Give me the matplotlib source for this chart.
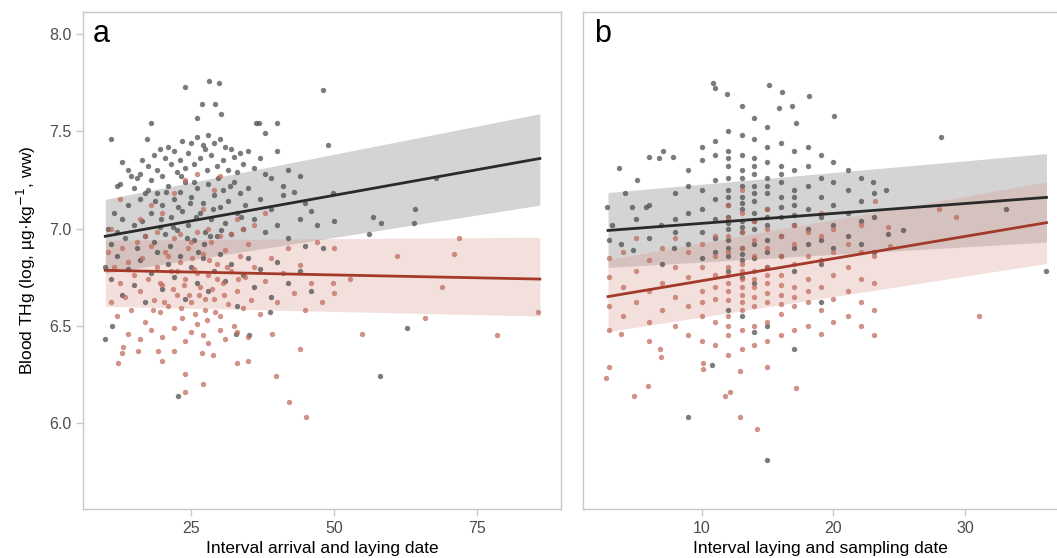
import matplotlib
matplotlib.use("Agg")
import matplotlib.pyplot as plt

plt.rcParams['font.family'] = ['Liberation Sans', 'DejaVu Sans']

# --- panel a: interval arrival -> laying (x) vs blood THg (y) ---
a_grey = [(23.9,7.73),(28.1,7.76),(29.9,7.75),(26.9,7.64),(29.2,7.64),(26.1,7.57),(30.2,7.59),(18.0,7.54),
          (11.0,7.46),(17.3,7.46),(36.3,7.54),(36.9,7.54),(40.1,7.54),(37.9,7.49),(48.1,7.71),(49.0,7.43),
          (49.9,7.18),(50.0,7.04),(56.8,7.06),(58.2,7.03),(56.1,6.97),(64.2,7.10),(64.0,7.03),(67.8,7.26),
          (62.8,6.49),(58.0,6.24),(22.7,6.14),(10.0,6.43),(11.2,6.50),(38.8,6.57),(32.9,6.46),(35.2,6.45),
          (12,7.22),(12.5,7.23),(13,7.34),(14,7.30),(14.5,7.27),(15,7.21),(15.5,7.26),(16,7.28),(16.5,7.35),
          (17,7.18),(17.5,7.32),(18,7.25),(18.5,7.38),(19,7.30),(19.5,7.41),(20,7.27),(20.5,7.36),(21,7.42),
          (21.5,7.33),(22,7.40),(22.5,7.29),(23,7.35),(23.5,7.45),(24,7.31),(24.5,7.39),(25,7.44),(25.5,7.33),
          (26,7.47),(26.5,7.36),(27,7.43),(27.5,7.41),(28,7.48),(28.5,7.38),(29,7.44),(29.5,7.32),(30,7.46),
          (30.5,7.35),(31,7.42),(31.5,7.30),(32,7.41),(32.5,7.37),(33,7.29),(33.5,7.39),(34,7.33),(35,7.40),
          (36,7.31),(37,7.36),(38,7.28),(39,7.26),(40,7.40),(41,7.22),(42,7.30),(43,7.19),(44,7.27),(45,7.13),
          (46,7.09),(10.5,7.00),(11,6.92),(11.5,7.08),(12,6.98),(13,7.05),(13.5,6.95),(14,7.12),(15,7.02),
          (15.5,6.90),(16,7.15),(16.5,7.04),(17,6.96),(17.5,7.20),(18,7.08),(18.5,6.93),(19,7.18),(19.5,7.01),
          (20,7.12),(20.5,6.97),(21,7.22),(21.5,7.06),(22,7.15),(22.5,6.99),(23,7.19),(23.5,7.09),(24,7.24),
          (24.5,7.02),(25,7.16),(25.5,6.94),(26,7.21),(26.5,7.08),(27,7.13),(27.5,6.98),(28,7.23),(28.5,7.05),
          (29,7.17),(29.5,6.96),(30,7.11),(30.5,7.20),(31,7.03),(31.5,7.14),(32,6.97),(32.5,7.24),(33,7.08),
          (33.5,7.18),(34,7.00),(34.5,7.12),(35,7.21),(36,7.05),(37,7.15),(38,6.98),(39,7.10),(40,7.02),
          (41,7.17),(42,6.95),(44,7.05),(45,6.91),(47,7.02),(48,6.90),(10,6.80),(11,6.74),(12,6.86),(13,6.66),
          (14,6.79),(15,6.71),(16,6.84),(17,6.62),(18,6.77),(19,6.88),(20,6.69),(21,6.82),(22,6.75),(23,6.86),
          (24,6.64),(25,6.80),(26,6.72),(27,6.85),(28,6.68),(29,6.78),(30,6.87),(31,6.73),(32,6.82),(33,6.60),
          (34,6.76),(35,6.85),(36,6.70),(37,6.79),(39,6.65),(40,6.83),(42,6.72),(44,6.78),(46,6.68),
          (19.8,7.05),(21.3,6.91),(22.8,7.11),(24.3,6.95),(25.8,7.06),(27.3,6.92),(28.8,7.10),(30.3,6.99),
          (20.7,7.19),(23.2,7.27),(25.6,7.24),(27.8,7.30),(29.7,7.26),(31.8,7.22),(26.2,6.88),(24.8,7.13),
          (21.9,7.01),(28.3,6.96),(18.7,7.14),(33.8,7.06)]

a_red = [(71.9,6.95),(71.0,6.87),(61.0,6.86),(50.0,6.90),(52.8,6.74),(49.8,6.72),(50.0,6.67),(68.9,6.70),
         (65.9,6.54),(85.7,6.57),(54.9,6.46),(44.1,6.38),(39.9,6.24),(42.1,6.11),(45.1,6.03),(24.0,6.16),
         (24.0,6.25),(27.1,6.20),(12.2,6.31),(47.9,6.62),(39.2,6.46),(33.0,6.31),(35.0,6.32),(22.0,6.37),
         (19.9,6.32),(19.2,6.37),(15.8,6.37),(13.0,6.36),(13.1,6.39),(28.9,6.35),(26.9,6.36),(78.5,6.45),
         (12.5,7.15),(18,7.12),(20,7.08),(24,7.25),(27,7.10),(30,7.27),(33,7.05),(36,7.02),(22,7.18),(26,7.28),
         (29,7.20),(16,7.05),(11,7.00),(38,7.08),
         (10.5,6.88),(11,6.62),(11.5,6.80),(12,6.55),(12.5,6.72),(13,6.90),(13.5,6.65),(14,6.83),(14.5,6.58),
         (15,6.76),(15.5,6.93),(16,6.68),(16.5,6.85),(17,6.52),(17.5,6.74),(18,6.91),(18.5,6.63),(19,6.80),
         (19.5,6.57),(20,6.71),(20.5,6.88),(21,6.60),(21.5,6.78),(22,6.95),(22.5,6.66),(23,6.83),(23.5,6.54),
         (24,6.74),(24.5,6.90),(25,6.62),(25.5,6.79),(26,6.51),(26.5,6.70),(27,6.87),(27.5,6.58),(28,6.76),
         (28.5,6.93),(29,6.64),(29.5,6.82),(30,6.55),(30.5,6.72),(31,6.89),(31.5,6.61),(32,6.78),(32.5,6.50),
         (33,6.68),(33.5,6.86),(34,6.59),(34.5,6.75),(35,6.92),(35.5,6.63),(36,6.80),(37,6.56),(38,6.73),
         (39,6.85),(40,6.62),(41,6.77),(42,6.90),(43,6.67),(44,6.81),(45,6.58),(46,6.72),(47,6.93),
         (14,6.46),(16,6.43),(18,6.48),(20,6.44),(22,6.49),(24,6.42),(25,6.47),(27,6.45),(28,6.41),(30,6.48),
         (31,6.43),(33,6.47),(35,6.44),(23,6.97),(25,6.93),(26,6.98),(28,7.00),(30,6.96),(32,6.97),(34,7.00),
         (19,6.98),(17,6.96),(21,6.86),(23.8,6.71),(26.4,6.66),(28.6,6.69),(25.2,6.85),(27.8,6.53),(29.6,6.74),
         (20.3,6.62),(21.8,6.69),(23.3,6.59),(24.7,6.66),(26.1,6.77),(27.4,6.64),(29.1,6.57),(30.8,6.66),
         (22.6,6.78),(25.7,6.56),(28.2,6.84),(31.3,6.80),(19.6,6.72),(33.2,6.74),(18.3,6.58)]

# --- panel b: interval laying -> sampling (x) vs blood THg (y) ---
b_grey = [(10.9,7.75),(11.0,7.72),(11.9,7.69),(15.1,7.74),(16.1,7.70),(18.2,7.68),(13.1,7.63),(15.9,7.62),
          (16.9,7.63),(14.0,7.57),(17.2,7.54),(20.1,7.58),(3.7,7.31),(6.0,7.37),(7.1,7.40),(6.8,7.36),
          (7.8,7.37),(5.1,7.25),(2.8,7.11),(3.0,6.94),(3.9,6.92),(4.8,6.89),(4.7,7.11),(5.8,7.11),(28.2,7.47),
          (33.1,7.10),(36.2,6.78),(25.3,6.99),(24.2,6.97),(24.0,7.20),(23.0,7.24),(9.0,6.03),(15.0,5.81),
          (10.8,6.30),(17.0,6.38),(13.1,6.55),(14,6.47),(15,6.50),(19.1,6.62),(12,6.58),
          (5,7.05),(6,6.95),(6.9,7.02),(7.9,6.90),(4.2,7.18),(3.2,7.02),(6,7.12),(7,6.82),
          (8,7.05),(8,6.98),(8,7.18),(9,7.22),(9,7.08),(9,6.92),(9,7.30),
          (10,7.35),(10,7.20),(10,7.10),(10,6.98),(10,6.85),(10,7.42),
          (11,7.38),(11,7.25),(11,7.15),(11,7.05),(11,6.95),(11,6.88),(11,7.45),
          (12,7.50),(12,7.40),(12,7.32),(12,7.26),(12,7.20),(12,7.12),(12,7.06),(12,7.00),(12,6.94),(12,6.86),(12,6.78),
          (13.1,7.48),(13.1,7.38),(13.1,7.30),(13.1,7.22),(13.1,7.16),(13.1,7.10),(13.1,7.04),(13.1,6.98),
          (13.1,6.90),(13.1,6.84),(13.1,6.75),
          (14,7.46),(14,7.36),(14,7.28),(14,7.22),(14,7.14),(14,7.08),(14,7.00),(14,6.92),(14,6.85),(14,6.72),
          (15,7.52),(15,7.42),(15,7.34),(15,7.26),(15,7.18),(15,7.10),(15,7.02),(15,6.94),(15,6.80),
          (16,7.44),(16,7.32),(16,7.24),(16,7.16),(16,7.06),(16,6.96),(16,6.86),
          (17,7.40),(17,7.30),(17,7.20),(17,7.12),(17,7.02),(17,6.90),(17,6.78),
          (18.1,7.42),(18.1,7.32),(18.1,7.22),(18.1,7.10),(18.1,7.00),(18.1,6.92),
          (19.1,7.38),(19.1,7.26),(19.1,7.16),(19.1,7.06),(19.1,6.94),(19.1,6.82),
          (20,7.34),(20,7.24),(20,7.12),(20,7.02),(20,6.90),
          (21.1,7.30),(21.1,7.20),(21.1,7.08),(21.1,6.96),
          (22.1,7.26),(22.1,7.14),(22.1,7.04),(22.1,6.92),
          (23.1,7.18),(23.1,7.06),(23.1,6.88),
          (12,7.16),(12,7.03),(12,6.90),(12,7.36),(13.1,7.26),(13.1,7.13),(13.1,7.01),(13.1,6.87),
          (14,7.18),(14,7.04),(14,7.32),(15,7.22),(15,7.06),(15,6.88),(16,7.11),(16,7.28),(17,7.16),(17,7.07)]

b_red = [(2.73,6.23),(3.0,6.29),(4.86,6.14),(5.9,6.19),(14.2,5.97),(12.9,6.03),(11.8,6.14),(12.2,6.16),
         (17.2,6.18),(10.1,6.28),(10.1,6.31),(15,6.29),(12.9,6.27),(6.9,6.34),(6.85,6.38),(6.0,6.42),
         (3.9,6.46),(3.0,6.48),(28.0,7.10),(29.3,7.06),(31.1,6.55),(24.2,7.01),(24.3,6.91),(23.2,7.14),
         (3,6.60),(3,6.75),(3,6.85),(4,6.55),(4,6.70),(4,6.88),(5,6.62),(5,6.78),(5,6.95),
         (6,6.52),(6,6.68),(6,6.84),(7,6.58),(7,6.72),(7,6.90),(8,6.50),(8,6.65),(8,6.80),(8,6.95),
         (9,6.45),(9,6.60),(9,6.75),(9,6.88),(10,6.42),(10,6.55),(10,6.68),(10,6.80),(10,6.92),
         (11,6.40),(11,6.52),(11,6.64),(11,6.76),(11,6.86),(11,6.96),
         (12,6.35),(12,6.45),(12,6.55),(12,6.63),(12,6.72),(12,6.80),(12,6.88),(12,6.96),(12,7.05),(12,7.12),
         (13.1,6.38),(13.1,6.48),(13.1,6.58),(13.1,6.66),(13.1,6.74),(13.1,6.82),(13.1,6.90),(13.1,6.98),
         (13.1,7.08),(13.1,7.20),
         (14,6.40),(14,6.50),(14,6.60),(14,6.70),(14,6.78),(14,6.86),(14,6.94),(14,7.04),
         (15,6.42),(15,6.52),(15,6.62),(15,6.72),(15,6.80),(15,6.90),(15,7.00),(15,7.10),
         (16,6.45),(16,6.56),(16,6.66),(16,6.76),(16,6.86),(16,6.96),
         (17,6.48),(17,6.60),(17,6.70),(17,6.82),(17,6.92),(17,7.02),
         (18.1,6.50),(18.1,6.62),(18.1,6.74),(18.1,6.86),(18.1,6.98),
         (19.1,6.46),(19.1,6.58),(19.1,6.70),(19.1,6.84),(19.1,6.96),(19.1,7.08),
         (20,6.52),(20,6.64),(20,6.76),(20,6.88),(20,7.00),
         (21.1,6.55),(21.1,6.68),(21.1,6.80),(21.1,6.92),
         (22.1,6.50),(22.1,6.62),(22.1,6.74),(22.1,6.88),(22.1,7.02),
         (23.1,6.45),(23.1,6.58),(23.1,6.72),(23.1,6.86),
         (12,6.68),(12,6.76),(12,6.50),(13.1,6.70),(13.1,6.62),(13.1,6.78),(14,6.65),(14,6.74),(15,6.67),
         (15,6.76),(16,6.61),(16,6.71),(17,6.65),(18.1,6.68),(11,6.70),(10,6.62)]

# fitted lines and 95% bands, values at both ends of the fit
a_fit_x = [10, 86]
a_grey_fit = [6.96, 7.36]
a_grey_lo = [6.77, 7.12]
a_grey_hi = [7.15, 7.59]
a_red_fit = [6.785, 6.74]
a_red_lo = [6.60, 6.55]
a_red_hi = [6.94, 6.955]

b_fit_x = [2.9, 36.2]
b_grey_fit = [6.99, 7.16]
b_grey_lo = [6.80, 6.93]
b_grey_hi = [7.185, 7.385]
b_red_fit = [6.65, 7.03]
b_red_lo = [6.47, 6.82]
b_red_hi = [6.84, 7.24]

grey_pt = '#4a4a4a'
red_pt = '#c0695a'
grey_line = '#2a2a2a'
red_line = '#a33a29'
grey_band = '#d4d4d4'
spine_c = '#c8c8c8'
tick_c = '#4d4d4d'

fig = plt.figure(figsize=(10.57, 5.58), dpi=100)
ax1 = fig.add_axes([83/1057, 1-509/558, 478/1057, 497/558])
ax2 = fig.add_axes([583/1057, 1-509/558, 474/1057, 497/558])


def draw(ax, grey, red, fx, gf, glo, ghi, rf, rlo, rhi):
    ax.fill_between(fx, glo, ghi, color=grey_band, lw=0, zorder=1)
    ax.fill_between(fx, rlo, rhi, color='#d89a8c', alpha=0.3, lw=0, zorder=1.1)
    ax.scatter([p[0] for p in grey], [p[1] for p in grey], s=15, color=grey_pt, alpha=0.72, lw=0, zorder=2)
    ax.scatter([p[0] for p in red], [p[1] for p in red], s=15, color=red_pt, alpha=0.72, lw=0, zorder=2.1)
    ax.plot(fx, gf, color=grey_line, lw=2, zorder=3)
    ax.plot(fx, rf, color=red_line, lw=2, zorder=3)
    ax.set_ylim(5.558, 8.113)
    for s in ax.spines.values():
        s.set_color(spine_c)
        s.set_linewidth(1.0)
    ax.tick_params(colors=spine_c, labelcolor=tick_c, labelsize=11.5, length=5, width=1, direction='out')


draw(ax1, a_grey, a_red, a_fit_x, a_grey_fit, a_grey_lo, a_grey_hi,
     a_red_fit, a_red_lo, a_red_hi)
draw(ax2, b_grey, b_red, b_fit_x, b_grey_fit, b_grey_lo, b_grey_hi,
     b_red_fit, b_red_lo, b_red_hi)

ax1.set_xlim(6.1, 89.7)
ax1.set_xticks([25, 50, 75])
ax1.set_yticks([6.0, 6.5, 7.0, 7.5, 8.0])
ax1.set_yticklabels(['6.0', '6.5', '7.0', '7.5', '8.0'])
ax1.set_xlabel('Interval arrival and laying date', fontsize=12.5, labelpad=4)
ax1.set_ylabel('Blood THg (log, µg·kg$^{-1}$, ww)', fontsize=12.5, labelpad=8)

ax2.set_xlim(1.0, 37.0)
ax2.set_xticks([10, 20, 30])
ax2.set_yticks([])
ax2.spines['right'].set_visible(False)
ax2.set_xlabel('Interval laying and sampling date', fontsize=12.5, labelpad=4)

ax1.text(0.02, 0.985, 'a', transform=ax1.transAxes, fontsize=22, va='top', ha='left')
ax2.text(0.023, 0.985, 'b', transform=ax2.transAxes, fontsize=22, va='top', ha='left')

fig.savefig('out.png', dpi=100)
